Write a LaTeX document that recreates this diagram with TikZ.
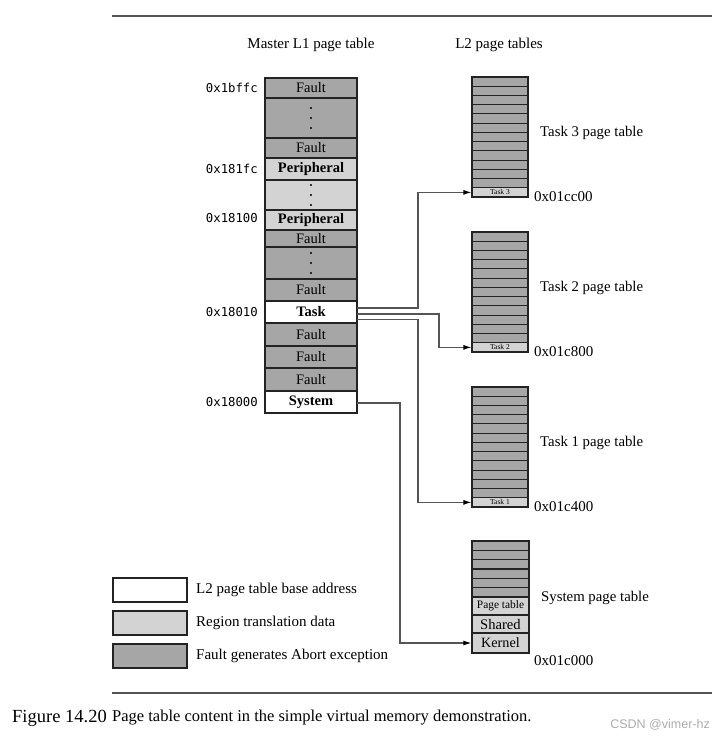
\documentclass[tikz,border=0pt]{standalone}
\usepackage{xcolor}
\usepackage{fontspec}
\setmainfont{Liberation Serif}
\newfontfamily\hexfont{DejaVu Sans Mono}
\newfontfamily\wmfont{Liberation Sans}
\usepackage{tikz}
\usetikzlibrary{arrows.meta}

\definecolor{faultgray}{RGB}{166,166,166}
\definecolor{regiongray}{RGB}{211,211,211}
\definecolor{edgegray}{RGB}{35,35,35}
\definecolor{wiregray}{RGB}{85,85,85}

\begin{document}
\begin{tikzpicture}[x=1pt, y=-1pt,
  l1row/.style={draw=edgegray, line width=1.2pt, minimum width=92pt, inner sep=0pt, outer sep=0pt, font=\fontsize{14.5}{15}\selectfont},
  fault/.style={l1row, fill=faultgray},
  region/.style={l1row, fill=regiongray, font=\fontsize{14.5}{15}\selectfont\bfseries},
  base/.style={l1row, fill=white, font=\fontsize{14.5}{15}\selectfont\bfseries},
  hexaddr/.style={anchor=east, inner sep=0pt, font=\fontsize{12.3}{13}\hexfont},
  l2addr/.style={anchor=west, inner sep=0pt, font=\fontsize{15}{16}\selectfont},
  heading/.style={inner sep=0pt, font=\fontsize{15}{16}\selectfont},
  rowline/.style={draw=edgegray, line width=1.1pt},
  taskslot/.style={draw=edgegray, line width=1.1pt, fill=regiongray, minimum width=56pt, minimum height=9.23pt, inner sep=0pt, font=\fontsize{7.5}{8}\selectfont},
  sysrow/.style={draw=edgegray, line width=1.2pt, fill=regiongray, minimum width=57pt, inner sep=0pt},
  legbox/.style={draw=edgegray, line width=1.2pt, minimum width=74pt, minimum height=24pt, inner sep=0pt},
  link/.style={draw=wiregray, line width=1.1pt, -{Latex[length=8pt,width=5pt,color=black]}}]

\useasboundingbox (0,0) rectangle (725,741);

% rules
\draw[wiregray, line width=1.4pt] (112,16) -- (712,16);
\draw[wiregray, line width=1.4pt] (112,693) -- (712,693);

\path (311,45) node[heading] (hdL1) {Master L1 page table};
\path (499,45) node[heading] (hdL2) {L2 page tables};

% master L1 page table
\node[fault, minimum height=20pt] (f1) at (311,88) {Fault};
\node[fault, minimum height=40pt] (dd1) at (311,118) {};
\node[fault, minimum height=20pt] (f2) at (311,148) {Fault};
\node[region, minimum height=22pt] (per1) at (311,169) {Peripheral};
\node[region, minimum height=30pt] (dl) at (311,195) {};
\node[region, minimum height=20pt] (per2) at (311,220) {Peripheral};
\node[fault, minimum height=17pt] (f3) at (311,238.5) {Fault};
\node[fault, minimum height=32pt] (dd2) at (311,263) {};
\node[fault, minimum height=22pt] (f4) at (311,290) {Fault};
\node[base, minimum height=22pt] (task) at (311,312) {Task};
\node[fault, minimum height=23pt] (f5) at (311,334.5) {Fault};
\node[fault, minimum height=22pt] (f6) at (311,357) {Fault};
\node[fault, minimum height=23pt] (f7) at (311,379.5) {Fault};
\node[base, minimum height=22pt] (sys) at (311,402) {System};

%dots
\foreach \d in {-10,0,10} {
  \fill[black] ([yshift=\d pt]dd1.center) circle (1.1pt);
  \fill[black] ([yshift=\d pt]dl.center) circle (1.1pt);
  \fill[black] ([yshift=\d pt]dd2.center) circle (1.1pt);
}

\path (258,88) node[hexaddr] (a1) {0x1bffc};
\path (258,169) node[hexaddr] (a2) {0x181fc};
\path (258,218) node[hexaddr] (a3) {0x18100};
\path (258,312) node[hexaddr] (a4) {0x18010};
\path (258,402) node[hexaddr] (a5) {0x18000};

% task L2 page tables
\foreach \tp/\k/\ad in {77/3/0x01cc00, 232/2/0x01c800, 387/1/0x01c400} {
  \fill[faultgray] (472,\tp) rectangle (528,\tp+110.77);
  \foreach \i in {1,...,11}
    \draw[rowline] (472,\tp+\i*9.23) -- (528,\tp+\i*9.23);
  \node[taskslot] (t\k) at (500,\tp+115.38) {Task \k};
  \draw[rowline] (472,\tp) rectangle (528,\tp+120);
  \path (540,\tp+56) node[anchor=west, inner sep=0pt, font=\fontsize{14.8}{16}\selectfont] (tt\k) {Task \k{} page table};
  \path (534,\tp+120) node[l2addr] (ta\k) {\ad};
}

% system L2 page table
\fill[faultgray] (472,541) rectangle (529,597);
\foreach \i in {1,...,5}
  \draw[rowline] (472,541+\i*9.33) -- (529,541+\i*9.33);
\node[sysrow, minimum height=18pt, font=\fontsize{11.4}{12}\selectfont] (pgt) at (500.5,606) {Page table};
\node[sysrow, minimum height=18pt, font=\fontsize{14.6}{15}\selectfont] (shared) at (500.5,624) {Shared};
\node[sysrow, minimum height=20pt, font=\fontsize{14.2}{15}\selectfont] (kernel) at (500.5,643) {Kernel};
\draw[rowline] (472,541) rectangle (529,653);
\path (541,598) node[anchor=west, inner sep=0pt, font=\fontsize{14.8}{16}\selectfont] (ts) {System page table};
\path (534,661) node[l2addr] (sa) {0x01c000};

% links
\draw[link] ([yshift=4pt]task.east) -- ++(61,0) |- (t3.west);
\draw[link] ([yshift=-2pt]task.east) -- ++(82,0) |- (t2.west);
\draw[link] ([yshift=-7.5pt]task.east) -- ++(61,0) |- (t1.west);
\draw[link] ([yshift=-1pt]sys.east) -- ++(43,0) |- (kernel.west);

% legend
\node[legbox, fill=white] (lgBase) at (150,590) {};
\node[legbox, fill=regiongray] (lgRegion) at (150,623) {};
\node[legbox, fill=faultgray] (lgFault) at (150,656) {};
\path (196,590) node[anchor=west, inner sep=0pt, font=\fontsize{15}{16}\selectfont] (lbBase) {L2 page table base address};
\path (196,623) node[anchor=west, inner sep=0pt, font=\fontsize{15}{16}\selectfont] (lbRegion) {Region translation data};
\path (196,656) node[anchor=west, inner sep=0pt, font=\fontsize{15}{16}\selectfont] (lbFault) {Fault generates Abort exception};

% caption
\path (12,718) node[anchor=west, inner sep=0pt, font=\fontsize{18.5}{19}\selectfont] (capNum) {Figure 14.20};
\path (112,718) node[anchor=west, inner sep=0pt, font=\fontsize{16.5}{17}\selectfont] (capText) {Page table content in the simple virtual memory demonstration.};
\path (710,725) node[anchor=east, inner sep=0pt, text=gray!65, font=\fontsize{12.5}{13}\wmfont] (wm) {CSDN @vimer-hz};
\end{tikzpicture}
\end{document}
